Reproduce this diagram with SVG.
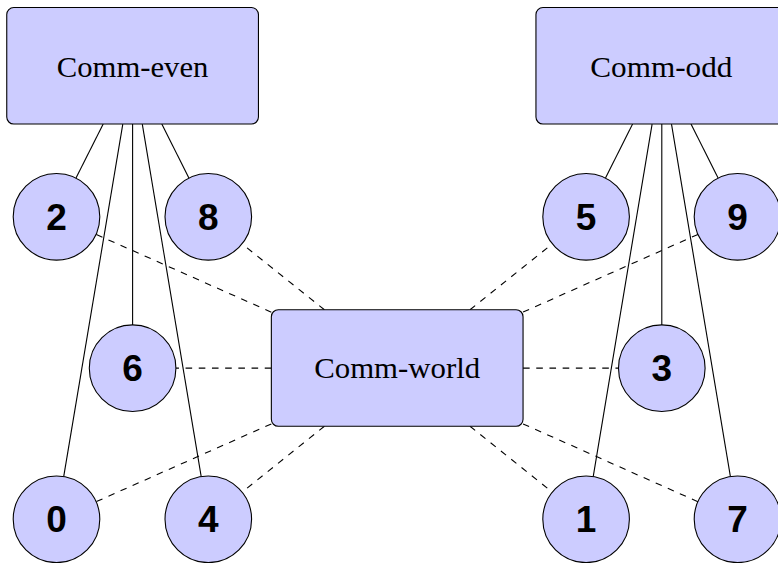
<svg xmlns="http://www.w3.org/2000/svg" width="778" height="563" viewBox="0 0 778 563">
  <style>
    .box { fill: #ccccff; stroke: #000; stroke-width: 1.1; }
    .rank { fill: #ccccff; stroke: #000; stroke-width: 1.1; }
    .comm { font-family: "Liberation Serif", "DejaVu Serif", serif; font-size: 30px; fill: #000; text-anchor: middle; }
    .num { font-family: "Liberation Sans", "DejaVu Sans", sans-serif; font-weight: bold; font-size: 37px; fill: #000; text-anchor: middle; }
    .solid { stroke: #000; stroke-width: 1.1; fill: none; }
    .dashed { stroke: #000; stroke-width: 1.1; fill: none; stroke-dasharray: 6.6 6.6; }
  </style>
  <rect width="778" height="563" fill="#fff"/>

  <!-- connectors: sub-communicators (solid), world communicator (dashed) -->
  <g id="connectors">
    <line class="solid" x1="103.2" y1="124.05" x2="76.0" y2="178.1"/>
    <line class="solid" x1="161.8" y1="124.05" x2="188.9" y2="178.1"/>
    <line class="solid" x1="132.6" y1="124.05" x2="132.6" y2="324.9"/>
    <line class="solid" x1="122.8" y1="124.05" x2="63.7" y2="476.6"/>
    <line class="solid" x1="142.3" y1="124.05" x2="201.2" y2="476.6"/>

    <line class="solid" x1="632.6" y1="124.05" x2="605.5" y2="178.1"/>
    <line class="solid" x1="691.0" y1="124.05" x2="718.1" y2="178.1"/>
    <line class="solid" x1="661.8" y1="124.05" x2="661.8" y2="324.9"/>
    <line class="solid" x1="652.1" y1="124.05" x2="593.2" y2="476.6"/>
    <line class="solid" x1="671.5" y1="124.05" x2="730.4" y2="476.6"/>

    <line class="dashed" x1="271.35" y1="312.15" x2="96.1" y2="234.4"/>
    <line class="dashed" x1="324.4" y1="309.7" x2="242.1" y2="243.9"/>
    <line class="dashed" x1="271.35" y1="368.1" x2="175.9" y2="368.1"/>
    <line class="dashed" x1="271.35" y1="423.9" x2="96.1" y2="501.7"/>
    <line class="dashed" x1="324.4" y1="426.3" x2="242.1" y2="492.2"/>

    <line class="dashed" x1="470.0" y1="309.7" x2="552.3" y2="243.9"/>
    <line class="dashed" x1="523.05" y1="312.1" x2="697.9" y2="234.4"/>
    <line class="dashed" x1="523.05" y1="368.1" x2="618.5" y2="368.1"/>
    <line class="dashed" x1="470.0" y1="426.3" x2="552.3" y2="492.2"/>
    <line class="dashed" x1="523.05" y1="423.9" x2="697.9" y2="501.7"/>
  </g>

  <!-- communicators -->
  <g id="comm-even">
    <rect class="box" x="6.75" y="7.55" width="251.7" height="116.5" rx="7" ry="7"/>
    <text class="comm" x="132.6" y="77.3" textLength="151.5" lengthAdjust="spacingAndGlyphs">Comm-even</text>
  </g>
  <g id="comm-odd">
    <rect class="box" x="535.95" y="7.55" width="251.7" height="116.5" rx="7" ry="7"/>
    <text class="comm" x="661.3" y="77.3" textLength="142" lengthAdjust="spacingAndGlyphs">Comm-odd</text>
  </g>
  <g id="comm-world">
    <rect class="box" x="271.35" y="309.7" width="251.7" height="116.6" rx="7" ry="7"/>
    <text class="comm" x="397.2" y="378.3" textLength="166" lengthAdjust="spacingAndGlyphs">Comm-world</text>
  </g>

  <!-- ranks -->
  <g id="rank-2"><circle class="rank" cx="56.5" cy="216.8" r="43.3"/><text class="num" x="56.5" y="229.8">2</text></g>
  <g id="rank-8"><circle class="rank" cx="208.3" cy="216.8" r="43.3"/><text class="num" x="208.3" y="229.8">8</text></g>
  <g id="rank-6"><circle class="rank" cx="132.6" cy="368.2" r="43.3"/><text class="num" x="132.6" y="381.2">6</text></g>
  <g id="rank-0"><circle class="rank" cx="56.5" cy="519.3" r="43.3"/><text class="num" x="56.5" y="532.3">0</text></g>
  <g id="rank-4"><circle class="rank" cx="208.3" cy="519.3" r="43.3"/><text class="num" x="208.3" y="532.3">4</text></g>

  <g id="rank-5"><circle class="rank" cx="586.1" cy="216.8" r="43.3"/><text class="num" x="586.1" y="229.8">5</text></g>
  <g id="rank-9"><circle class="rank" cx="737.5" cy="216.8" r="43.3"/><text class="num" x="737.5" y="229.8">9</text></g>
  <g id="rank-3"><circle class="rank" cx="661.8" cy="368.2" r="43.3"/><text class="num" x="661.8" y="381.2">3</text></g>
  <g id="rank-1"><circle class="rank" cx="586.1" cy="519.3" r="43.3"/><text class="num" x="586.1" y="532.3">1</text></g>
  <g id="rank-7"><circle class="rank" cx="737.5" cy="519.3" r="43.3"/><text class="num" x="737.5" y="532.3">7</text></g>
</svg>
